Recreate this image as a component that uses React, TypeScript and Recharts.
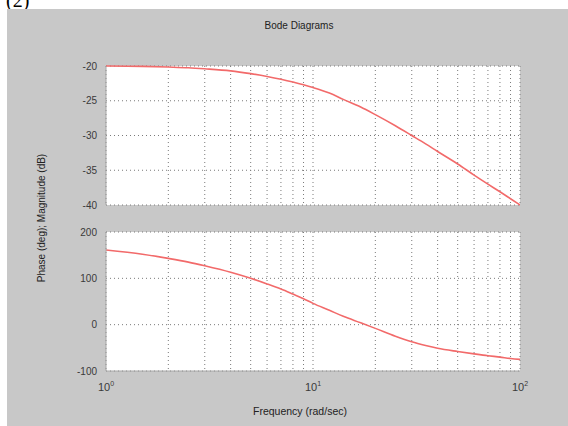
import React from 'react';
import { CartesianGrid, Line, LineChart, XAxis, YAxis } from 'recharts';

// frequency points (rad/sec) and the two read-off responses
const frequency = [1, 1.5, 2, 2.5, 3, 4, 5, 6, 7, 8, 9, 10, 12, 14, 17, 20, 25, 30, 35, 40, 50, 60, 70, 80, 90, 100];
const magnitude = [-20.0, -20.05, -20.15, -20.25, -20.4, -20.7, -21.1, -21.5, -21.9, -22.3, -22.7, -23.1, -23.9, -24.8, -25.9, -27.0, -28.6, -30.0, -31.2, -32.3, -34.1, -35.7, -37.0, -38.1, -39.1, -40.0];
const phase = [161, 152, 143, 135, 127, 113, 100, 88, 77, 66, 56, 46, 31, 18, 4, -8, -25, -37, -45, -51, -58, -63, -67, -70, -73, -75];

const freqTicks = [1, 2, 3, 4, 5, 6, 7, 8, 9, 10, 20, 30, 40, 50, 60, 70, 80, 90, 100];
const magTicks = [-40, -35, -30, -25, -20];
const phaseTicks = [-100, 0, 100, 200];

const magData = frequency.map((w, i) => ({ w, value: magnitude[i] }));
const phaseData = frequency.map((w, i) => ({ w, value: phase[i] }));

const FONT = '"Liberation Sans", Arial, sans-serif';
const lineColor = '#f26a6a';
const boxColor = '#a8a8a8';
const gridColor = '#7a7a7a';
const tickStyle = { fontSize: 10, fill: '#3a3a3a', fontFamily: FONT };

function DecadeTick(props: any) {
  const { x, y, payload, show } = props;
  const exp = Math.log10(payload.value);
  if (!show || Math.abs(exp - Math.round(exp)) > 1e-9) return <g />;
  return (
    <text x={x} y={y + 12} textAnchor="middle" fontSize={11} fill="#3a3a3a" fontFamily={FONT}>
      10
      <tspan dy={-5} fontSize={7}>
        {Math.round(exp)}
      </tspan>
    </text>
  );
}

function Panel({ data, top, plotBottom, domain, ticks, showX }: any) {
  const height = 426;
  const bottomMargin = height - plotBottom - (showX ? 30 : 0);
  return (
    <div style={{ position: 'absolute', left: 0, top: 0 }}>
      <LineChart
        width={568}
        height={height}
        data={data}
        margin={{ top, right: 48, bottom: bottomMargin, left: 0 }}
      >
        <CartesianGrid
          stroke={gridColor}
          strokeDasharray="1 3"
          fill="#ffffff"
          fillOpacity={1}
        />
        <XAxis
          dataKey="w"
          type="number"
          scale="log"
          domain={[1, 100]}
          ticks={freqTicks}
          allowDataOverflow
          interval={0}
          height={showX ? 30 : 0}
          stroke={boxColor}
          tickLine={false}
          tick={<DecadeTick show={showX} />}
        />
        <XAxis
          xAxisId="top"
          orientation="top"
          dataKey="w"
          type="number"
          scale="log"
          domain={[1, 100]}
          height={0}
          stroke={boxColor}
          tick={false}
          tickLine={false}
        />
        <YAxis
          type="number"
          domain={domain}
          ticks={ticks}
          width={106}
          stroke={boxColor}
          tickLine={false}
          tick={tickStyle}
          tickMargin={3}
        />
        <YAxis
          yAxisId="right"
          orientation="right"
          type="number"
          domain={domain}
          width={0}
          stroke={boxColor}
          tick={false}
          tickLine={false}
        />
        <Line
          type="monotone"
          dataKey="value"
          stroke={lineColor}
          strokeWidth={1.6}
          dot={false}
          isAnimationActive={false}
        />
      </LineChart>
    </div>
  );
}

export default function App() {
  return (
    <div style={{ position: 'fixed', left: 0, top: 0, width: 568, height: 426, background: '#fff', overflow: 'hidden' }}>
      <div style={{ position: 'absolute', left: 6, top: -11, fontFamily: '"Liberation Serif", "Times New Roman", serif', fontSize: 20, color: '#000' }}>
        (2)
      </div>
      <div style={{ position: 'absolute', left: 7, top: 9, width: 561, height: 417, background: '#c8c8c8' }} />
      <Panel data={magData} top={66} plotBottom={205} domain={[-40, -20]} ticks={magTicks} showX={false} />
      <Panel data={phaseData} top={232} plotBottom={371} domain={[-100, 200]} ticks={phaseTicks} showX />
      <div style={{ position: 'absolute', left: 199, width: 200, top: 20, textAlign: 'center', fontFamily: FONT, fontSize: 10, color: '#222' }}>
        Bode Diagrams
      </div>
      <div style={{ position: 'absolute', left: 200, width: 200, top: 405, textAlign: 'center', fontFamily: FONT, fontSize: 10.5, color: '#222' }}>
        Frequency (rad/sec)
      </div>
      <div
        style={{
          position: 'absolute',
          left: 42 - 100,
          top: 218 - 7,
          width: 200,
          textAlign: 'center',
          transform: 'rotate(-90deg)',
          fontFamily: FONT,
          fontSize: 10,
          color: '#222',
          lineHeight: '14px',
        }}
      >
        Phase (deg); Magnitude (dB)
      </div>
    </div>
  );
}
